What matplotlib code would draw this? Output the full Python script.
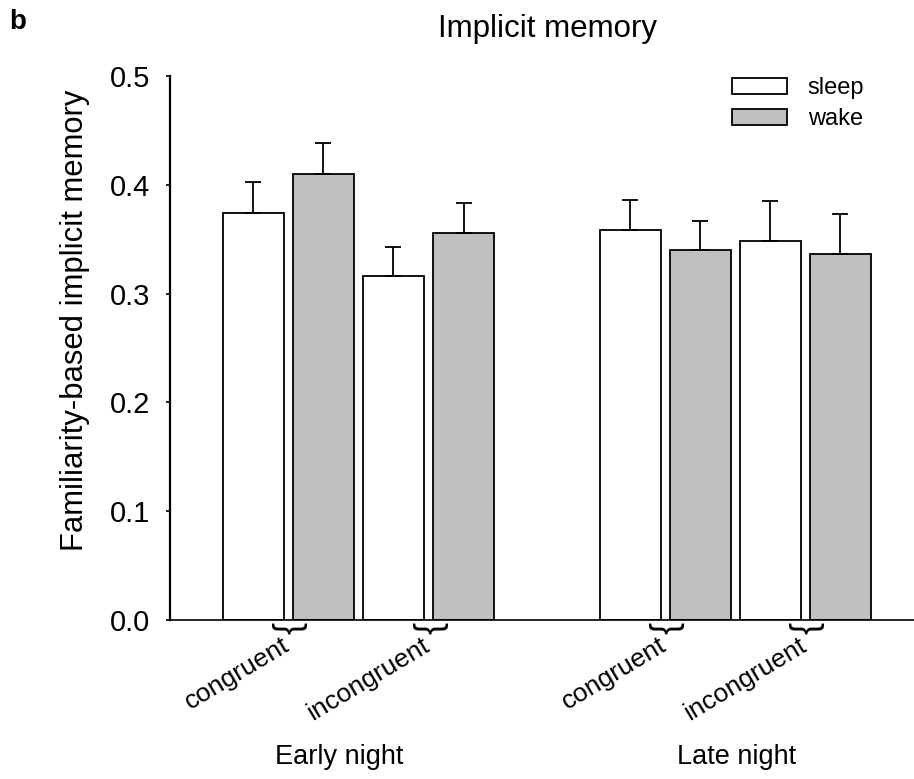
import numpy as np
import matplotlib
matplotlib.use("Agg")
import matplotlib.pyplot as plt

plt.rcParams['font.family'] = ['Liberation Sans', 'DejaVu Sans']

# data
groups = ["Early night", "Late night"]
conditions = ["congruent", "incongruent"]
series = ["sleep", "wake"]
sleep_mean = [0.374, 0.316, 0.358, 0.348]
sleep_err = [0.029, 0.027, 0.028, 0.037]
wake_mean = [0.410, 0.356, 0.340, 0.336]
wake_err = [0.028, 0.027, 0.027, 0.037]
yticks = [0.0, 0.1, 0.2, 0.3, 0.4, 0.5]

colors = {"sleep": "white", "wake": "#c0c0c0"}
group_offset = [0.0, 5.38]
bar_w = 0.875

fig = plt.figure(figsize=(9.14, 7.79), dpi=100, facecolor='white')
ax = fig.add_axes([170 / 914, 1 - 620 / 779, 1 - 170 / 914, 544 / 779])

# bar positions: per group sleep/wake pairs for congruent then incongruent
sleep_x, wake_x = [], []
for g in group_offset:
    for c in range(len(conditions)):
        sleep_x.append(g + 2 * c)
        wake_x.append(g + 2 * c + 1)

err_kw = dict(ecolor='black', elinewidth=1.3, capsize=5.8, capthick=1.3)
ax.bar(sleep_x, sleep_mean, width=bar_w, color=colors["sleep"], edgecolor='black',
       linewidth=1.3, yerr=[np.zeros(len(sleep_err)), sleep_err], error_kw=err_kw,
       label="sleep", zorder=2)
ax.bar(wake_x, wake_mean, width=bar_w, color=colors["wake"], edgecolor='black',
       linewidth=1.3, yerr=[np.zeros(len(wake_err)), wake_err], error_kw=err_kw,
       label="wake", zorder=2)

ax.set_xlim(-1.19, 9.43)
ax.set_ylim(0, 0.5)
ax.set_yticks(yticks)
ax.set_yticklabels([f"{t:.1f}" for t in yticks])
ax.tick_params(axis='y', direction='out', length=3, width=1.2, labelsize=21, pad=11)
ax.set_xticks([])
for s in ['top', 'right']:
    ax.spines[s].set_visible(False)
ax.spines['left'].set_linewidth(1.6)
ax.spines['bottom'].set_linewidth(1.2)

# braces and condition labels under each sleep/wake pair
for sx, wx, cond in zip(sleep_x, wake_x, conditions * len(groups)):
    mid = (sx + wx) / 2
    ax.text(mid, -0.002, "}", rotation=-90, ha='center', va='top', fontsize=26,
            fontweight='light', clip_on=False)
    ax.text(mid - 0.1, -0.012, cond, rotation=31, rotation_mode='anchor',
            ha='right', va='top', fontsize=19, clip_on=False)

group_label_x = [1.22, 6.9]
for gx, name in zip(group_label_x, groups):
    ax.text(gx, -0.126, name, ha='center', va='center', fontsize=19.5, clip_on=False)

fig.text(75 / 914, 1 - 320 / 779, "Familiarity-based implicit memory", rotation=90,
         ha='center', va='center', fontsize=22.3)
fig.text(547 / 914, 1 - 29 / 779, "Implicit memory", ha='center', va='center', fontsize=22.5)
fig.text(9 / 914, 1 - 22 / 779, "b", ha='left', va='center', fontsize=20, fontweight='bold')

leg = ax.legend(loc='upper left', bbox_to_anchor=(732 / 914, 1 - 77 / 779),
                bbox_transform=fig.transFigure, frameon=False, fontsize=17,
                handlelength=2.35, handleheight=0.68, handletextpad=0.85,
                labelspacing=0.4, borderpad=0, borderaxespad=0)

fig.savefig("out.png", dpi=100, facecolor='white')
